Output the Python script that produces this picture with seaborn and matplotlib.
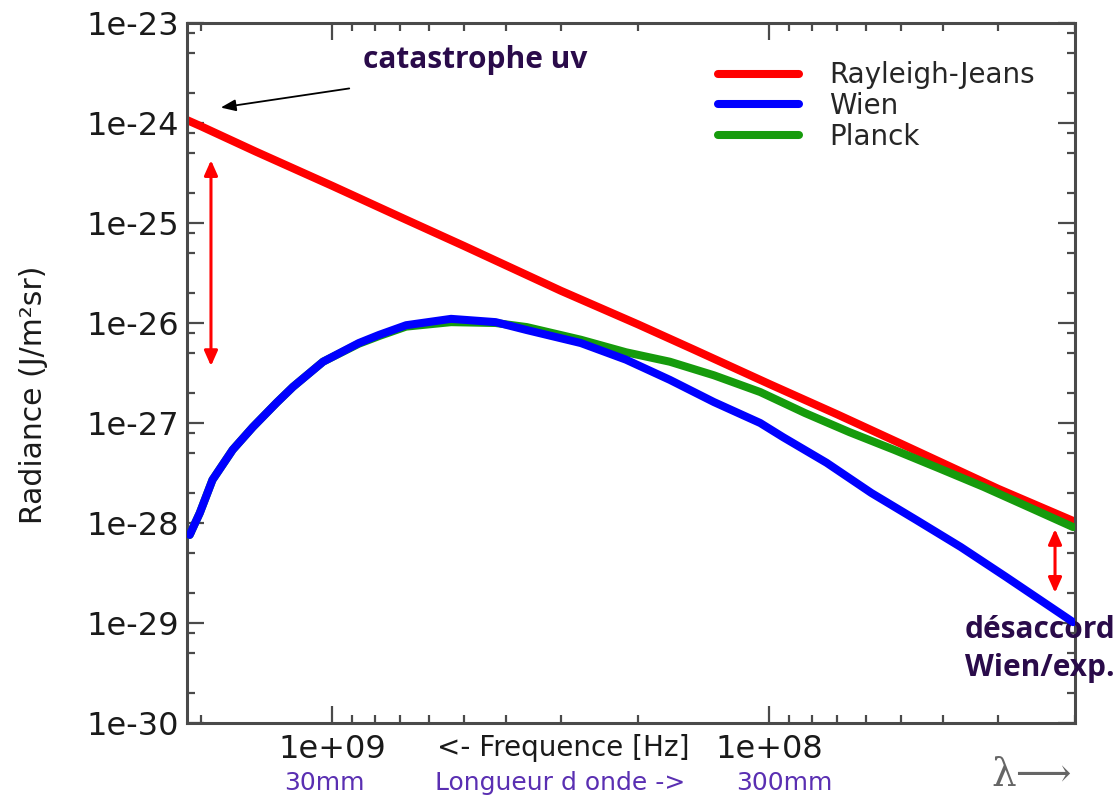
import numpy as np
import pandas as pd
import seaborn as sns
import matplotlib.pyplot as plt
from matplotlib.ticker import LogLocator, FixedLocator, FuncFormatter, NullFormatter
from matplotlib.lines import Line2D

# values (frequency in Hz, radiance)
freq_rj = [2.15e9, 2.0e9, 1.5e9, 1.0e9, 7e8, 5e8, 3e8, 2e8, 1.5e8, 1e8, 7e7, 5e7, 3e7, 2e7]
rad_rj = [1.07e-24, 9.3e-25, 5.2e-25, 2.35e-25, 1.15e-25, 5.9e-26, 2.1e-26,
          9.7e-27, 5.5e-27, 2.45e-27, 1.22e-27, 6.2e-28, 2.2e-28, 1.03e-28]

freq_wien = [2.12e9, 2.01e9, 1.88e9, 1.69e9, 1.52e9, 1.34e9, 1.23e9, 1.05e9, 8.7e8,
             7.82e8, 6.78e8, 5.35e8, 4.23e8, 3.59e8, 2.70e8, 2.13e8, 1.69e8, 1.34e8,
             1.05e8, 9.3e7, 7.4e7, 5.85e7, 4.61e7, 3.65e7, 2.88e7, 2.02e7]
rad_wien = [7.6e-29, 1.26e-28, 2.7e-28, 5.4e-28, 9.1e-28, 1.6e-27, 2.3e-27, 4.1e-27,
            6.3e-27, 7.6e-27, 9.5e-27, 1.10e-26, 1.02e-26, 8.5e-27, 6.3e-27, 4.3e-27,
            2.7e-27, 1.62e-27, 1.0e-27, 7.2e-28, 4.0e-28, 2.0e-28, 1.07e-28, 5.75e-29,
            2.9e-29, 1.02e-29]

freq_planck = [2.12e9, 2.01e9, 1.88e9, 1.69e9, 1.52e9, 1.34e9, 1.23e9, 1.05e9, 8.7e8,
               7.82e8, 6.78e8, 5.35e8, 4.23e8, 3.59e8, 2.70e8, 2.13e8, 1.69e8, 1.34e8,
               1.05e8, 8.3e7, 6.56e7, 5.19e7, 4.11e7, 3.24e7, 2.56e7, 2.02e7]
rad_planck = [7.6e-29, 1.26e-28, 2.7e-28, 5.4e-28, 9.1e-28, 1.6e-27, 2.3e-27, 4.1e-27,
              6.2e-27, 7.4e-27, 9.2e-27, 1.02e-26, 1.0e-26, 9.1e-27, 6.8e-27, 5.1e-27,
              4.1e-27, 3.0e-27, 2.04e-27, 1.26e-27, 8.1e-28, 5.4e-28, 3.55e-28, 2.3e-28,
              1.45e-28, 9.1e-29]

labels = ['Rayleigh-Jeans', 'Wien', 'Planck']
colors = {'Rayleigh-Jeans': '#ff0000', 'Wien': '#0000ff', 'Planck': '#169b0c'}

df_rj = pd.DataFrame({'freq': freq_rj, 'rad': rad_rj})
df_wien = pd.DataFrame({'freq': freq_wien, 'rad': rad_wien})
df_planck = pd.DataFrame({'freq': freq_planck, 'rad': rad_planck})

sns.set_style('ticks')
plt.rcParams['font.family'] = ['DejaVu Sans']

fig = plt.figure(figsize=(11.18, 7.99), dpi=100)
ax = fig.add_axes([187 / 1118, 1 - 723 / 799, 888 / 1118, 700 / 799])

lw = 5.8
sns.lineplot(data=df_rj, x='freq', y='rad', color=colors['Rayleigh-Jeans'],
             lw=lw, sort=False, estimator=None, ax=ax, zorder=2)
sns.lineplot(data=df_planck, x='freq', y='rad', color=colors['Planck'],
             lw=lw, sort=False, estimator=None, ax=ax, zorder=3)
sns.lineplot(data=df_wien, x='freq', y='rad', color=colors['Wien'],
             lw=lw, sort=False, estimator=None, ax=ax, zorder=4)

ax.set_xscale('log')
ax.set_yscale('log')
ax.set_xlim(2.15e9, 2.0e7)
ax.set_ylim(1e-30, 1e-23)

ax.xaxis.set_major_locator(FixedLocator([1e9, 1e8]))
ax.xaxis.set_minor_locator(LogLocator(base=10, subs=np.arange(2, 10), numticks=20))
ax.xaxis.set_minor_formatter(NullFormatter())
ax.xaxis.set_major_formatter(FuncFormatter(lambda v, p: f'{v:.0e}'))
ax.yaxis.set_major_locator(LogLocator(base=10, numticks=20))
ax.yaxis.set_minor_locator(LogLocator(base=10, subs=(2, 5, 8), numticks=20))
ax.yaxis.set_minor_formatter(NullFormatter())
ax.yaxis.set_major_formatter(FuncFormatter(lambda v, p: f'{v:.0e}'))

spine_col = '#4a4a4a'
for s in ax.spines.values():
    s.set_visible(True)
    s.set_color(spine_col)
    s.set_linewidth(2.2)
ax.tick_params(which='both', direction='in', top=True, right=True, color=spine_col, width=1.6)
ax.tick_params(which='major', length=12, labelsize=23, labelcolor='#1a1a1a')
ax.tick_params(which='minor', length=5.5)
ax.tick_params(axis='y', which='major', pad=6)
ax.tick_params(axis='x', which='major', pad=8)

ax.set_xlabel('')
ax.set_ylabel('Radiance (J/m²sr)', fontsize=21.5, color='#1a1a1a')
ax.yaxis.set_label_coords(-0.156, 0.469)

handles = [Line2D([], [], color=colors[k], lw=lw) for k in labels]
leg = ax.legend(handles, labels, loc='upper right', bbox_to_anchor=(0.983, 0.981),
                frameon=False, fontsize=20, handlelength=2.9, labelspacing=0.1,
                handletextpad=1.1)

# texts under the axis
fig.text(563 / 1118, 1 - 748 / 799, '<- Frequence [Hz]', fontsize=20,
         color='#1a1a1a', ha='center', va='center')
purple = '#5a2fb2'
fig.text(324 / 1118, 1 - 783 / 799, '30mm', fontsize=18, color=purple, ha='center', va='center')
fig.text(560 / 1118, 1 - 783 / 799, 'Longueur d onde ->', fontsize=18, color=purple,
         ha='center', va='center')
fig.text(784 / 1118, 1 - 783 / 799, '300mm', fontsize=18, color=purple, ha='center', va='center')
fig.text(1032 / 1118, 1 - 776 / 799, 'λ⟶', fontsize=28, color='#666666',
         ha='center', va='center', family='DejaVu Serif')

# annotations
dark = '#2a0b4a'
ax.text(0.3243, 0.947, 'catastrophe uv', transform=ax.transAxes, fontsize=21.5,
        fontweight='bold', family='Open Sans', color=dark, ha='center', va='center')
ax.annotate('', xy=(0.0349, 0.8786), xytext=(0.1858, 0.9071),
            xycoords='axes fraction', textcoords='axes fraction',
            arrowprops=dict(arrowstyle='-|>,head_length=0.9,head_width=0.35',
                            color='black', lw=1.3))
ax.annotate('', xy=(0.027, 0.808), xytext=(0.027, 0.506),
            xycoords='axes fraction', textcoords='axes fraction',
            arrowprops=dict(arrowstyle='<|-|>,head_length=0.9,head_width=0.4',
                            color='#ff0000', lw=2.2))
ax.annotate('', xy=(0.9775, 0.281), xytext=(0.9775, 0.182),
            xycoords='axes fraction', textcoords='axes fraction',
            arrowprops=dict(arrowstyle='<|-|>,head_length=0.9,head_width=0.4',
                            color='#ff0000', lw=2.2))
ax.text(0.9606, 0.133, 'désaccord', transform=ax.transAxes, fontsize=21.5,
        fontweight='bold', family='Open Sans', color=dark, ha='center', va='center',
        clip_on=False)
ax.text(0.9606, 0.0786, 'Wien/exp.', transform=ax.transAxes, fontsize=21.5,
        fontweight='bold', family='Open Sans', color=dark, ha='center', va='center',
        clip_on=False)

fig.savefig('out.png', dpi=100)
